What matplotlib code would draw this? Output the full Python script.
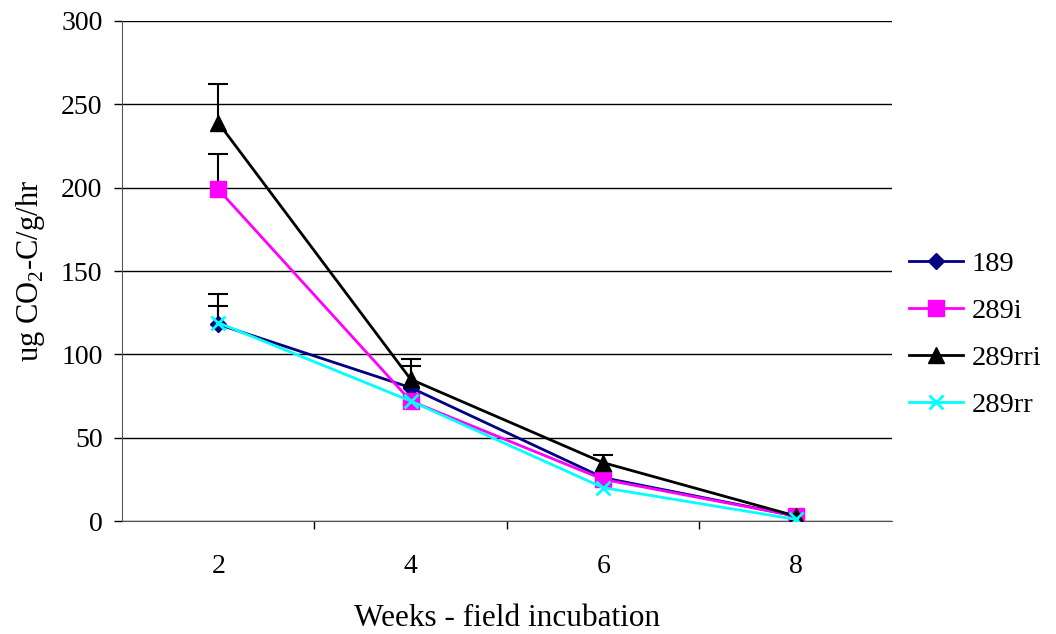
import matplotlib
matplotlib.use("Agg")
import matplotlib.pyplot as plt
import numpy as np

weeks = [2, 4, 6, 8]
s189 = [118, 80, 26, 3]
s289i = [199, 72, 25, 3]
s289rri = [239, 85, 35, 3]
s289rr = [119, 72, 20, 1]

err189 = [11, 13, 0, 0]
err289i = [21, 0, 0, 0]
err289rri = [23, 12, 4.6, 0]
err289rr = [17, 0, 0, 0]

plt.rcParams['font.family'] = ['Liberation Serif', 'DejaVu Serif']
plt.rcParams['mathtext.fontset'] = 'custom'
plt.rcParams['mathtext.rm'] = 'Liberation Serif'
fig = plt.figure(figsize=(10.56, 6.34), dpi=100)
ax = fig.add_axes([0.1155, 0.1782, 0.8447 - 0.1155, 0.9669 - 0.1782])

series = [
    ("189", s189, err189, "#000080", "D", 8),
    ("289i", s289i, err289i, "#FF00FF", "s", 11),
    ("289rri", s289rri, err289rri, "#000000", "^", 11),
    ("289rr", s289rr, err289rr, "#00FFFF", "x", 10),
]

for name, vals, err, col, mk, ms in series:
    v = np.array(vals, dtype=float)
    e = np.array(err, dtype=float)
    w = np.array(weeks, dtype=float)
    m = e > 0
    ax.vlines(w[m], v[m], v[m] + e[m], color="black", lw=1.5, zorder=2)
    ax.plot(w[m], v[m] + e[m], linestyle="none", marker="_", color="black",
            markersize=14, markeredgewidth=1.5, zorder=2)

for name, vals, err, col, mk, ms in series:
    ax.plot(weeks, vals, color=col, marker=mk, markersize=ms, lw=2,
            markeredgewidth=2 if mk == "x" else 1, markeredgecolor=col,
            label=name, zorder=3)

ax.set_xlim(1, 9)
ax.set_ylim(0, 300)
ax.set_yticks(np.arange(0, 301, 50))
ax.set_xticks(weeks)
ax.set_xticks([3, 5, 7], minor=True)
ax.tick_params(axis='x', which='major', length=0, labelsize=20, pad=24)
ax.tick_params(axis='x', which='minor', length=6, width=1, direction='out')
ax.tick_params(axis='y', labelsize=20, length=6, width=1, direction='out', pad=8)
ax.grid(axis='y', color='black', lw=1, zorder=0)
ax.set_axisbelow(True)
for s in ['top', 'right']:
    ax.spines[s].set_visible(False)
ax.spines['left'].set_color('#555555')
ax.spines['bottom'].set_color('#555555')

ax.set_ylabel("ug CO$_2$-C/g/hr", fontsize=22, labelpad=10)
ax.set_xlabel("Weeks - field incubation", fontsize=22.5, labelpad=18)

ax.legend(loc='center left', bbox_to_anchor=(1.0, 0.373), frameon=False,
          fontsize=20.5, handlelength=1.9, labelspacing=0.75, handletextpad=0.3,
          borderaxespad=0.2)

fig.savefig("out.png", dpi=100)
